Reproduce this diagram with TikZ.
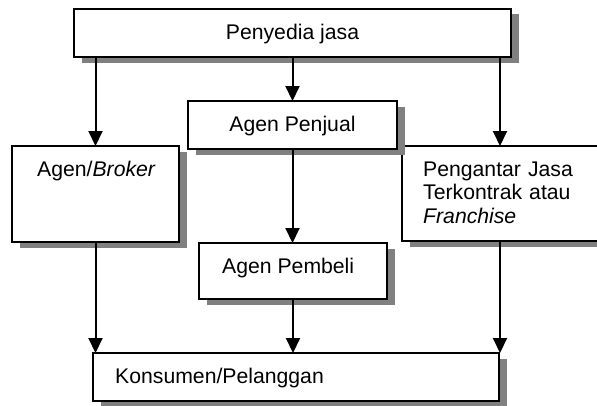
\documentclass[tikz,border=0pt]{standalone}
\usepackage{fontspec}
\setmainfont{Liberation Sans}
\usetikzlibrary{arrows.meta,shadows}
\definecolor{shgray}{RGB}{128,128,128}
\tikzset{
  box/.style={draw=black, line width=2pt, fill=white, rectangle, inner sep=0pt, outer sep=0pt,
    anchor=north west,
    general shadow={fill=shgray, shadow xshift=8pt, shadow yshift=-5.5pt}},
  txt/.style={inner sep=0pt, font=\fontsize{21.2pt}{23.5pt}\selectfont},
  arr/.style={line width=2pt, -{Triangle[width=14pt,length=15pt]}}
}
\begin{document}
\begin{tikzpicture}[x=1pt,y=-1pt]
\useasboundingbox (0,0) rectangle (597,405);
\clip (0,0) rectangle (597,405);
% boxes
\node[box, minimum width=437pt, minimum height=48.5pt] (top) at (74,8.5) {};
\node[box, minimum width=196pt, minimum height=95pt] (pengantar) at (402,146) {};
\node[box, minimum width=209pt, minimum height=48pt] (penjual) at (188,101) {};
\node[box, minimum width=167pt, minimum height=96pt] (broker) at (12,146) {};
\node[box, minimum width=188pt, minimum height=56pt] (pembeli) at (199,243) {};
\node[box, minimum width=406pt, minimum height=48pt] (konsumen) at (93,353) {};
% texts
\node[txt, anchor=base] (tpenyedia) at (292.5,39) {Penyedia jasa};
\node[txt, anchor=base] (tpenjual) at (292.5,131) {Agen Penjual};
\node[txt, anchor=base west] (tbroker) at (37,176) {Agen/\textit{Broker}};
\node[txt, anchor=base west, text width=160pt, align=left] (tpengantar) at (423,176)
  {Pengantar Jasa\\Terkontrak atau\\\textit{Franchise}};
\node[txt, anchor=base west] (tpembeli) at (222,273) {Agen Pembeli};
\node[txt, anchor=base west] (tkonsumen) at (115,383) {Konsumen/Pelanggan};
% connectors
\draw[arr] (top.south -| broker.north) -- (broker.north);
\draw[arr] (top.south -| penjual.north) -- (penjual.north);
\draw[arr] (top.south -| pengantar.north) -- (pengantar.north);
\draw[arr] (penjual.south) -- (penjual.south |- pembeli.north);
\draw[arr] (broker.south) -- (broker.south |- konsumen.north);
\draw[arr] (pembeli.south) -- (pembeli.south |- konsumen.north);
\draw[arr] (pengantar.south) -- (pengantar.south |- konsumen.north);
\end{tikzpicture}
\end{document}
